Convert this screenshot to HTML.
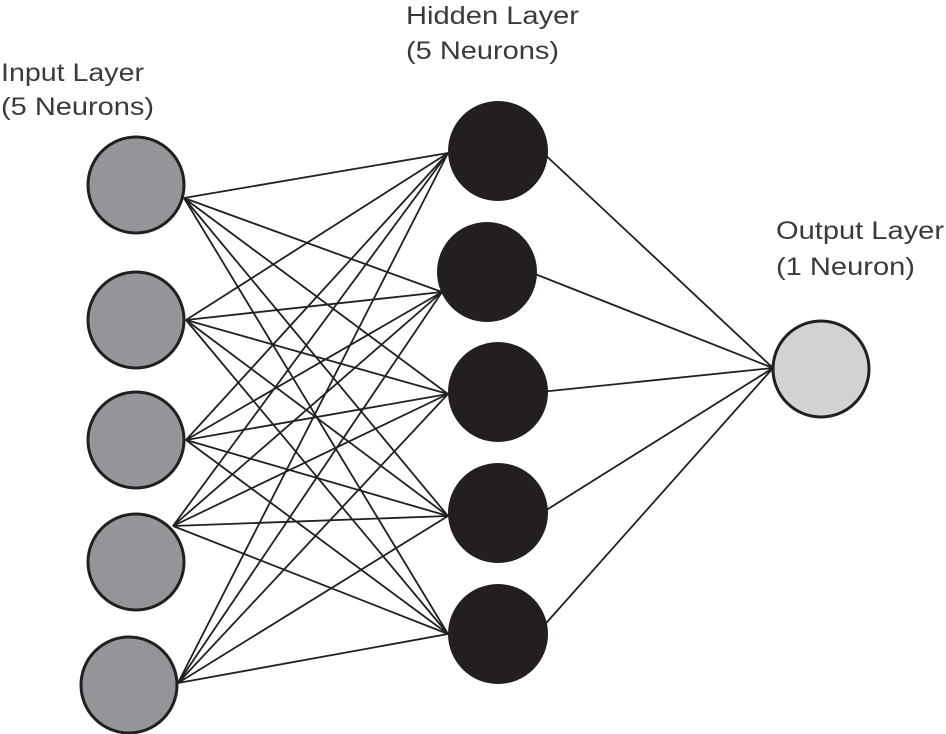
<!DOCTYPE html>
<html><head><meta charset="utf-8"><style>
html,body{margin:0;padding:0;background:#fff;}
svg{display:block;}
text{font-family:"Liberation Sans",Arial,sans-serif;font-size:25px;fill:#3a3a3a;}
</style></head><body>
<svg width="946" height="734" viewBox="0 0 946 734" xmlns="http://www.w3.org/2000/svg">
<g stroke="#231f20" stroke-width="1.8" fill="none">
<line x1="184" y1="198" x2="448" y2="153"/><line x1="184" y1="198" x2="442" y2="292"/><line x1="184" y1="198" x2="448" y2="394"/><line x1="184" y1="198" x2="448" y2="516"/><line x1="184" y1="198" x2="448" y2="634"/>
<line x1="186" y1="320" x2="448" y2="153"/><line x1="186" y1="320" x2="442" y2="292"/><line x1="186" y1="320" x2="448" y2="394"/><line x1="186" y1="320" x2="448" y2="516"/><line x1="186" y1="320" x2="448" y2="634"/>
<line x1="186" y1="440" x2="448" y2="153"/><line x1="186" y1="440" x2="442" y2="292"/><line x1="186" y1="440" x2="448" y2="394"/><line x1="186" y1="440" x2="448" y2="516"/><line x1="186" y1="440" x2="448" y2="634"/>
<line x1="173" y1="526" x2="448" y2="153"/><line x1="173" y1="526" x2="442" y2="292"/><line x1="173" y1="526" x2="448" y2="394"/><line x1="173" y1="526" x2="448" y2="516"/><line x1="173" y1="526" x2="448" y2="634"/>
<line x1="178" y1="683" x2="448" y2="153"/><line x1="178" y1="683" x2="442" y2="292"/><line x1="178" y1="683" x2="448" y2="394"/><line x1="178" y1="683" x2="448" y2="516"/><line x1="178" y1="683" x2="448" y2="634"/>
<line x1="540" y1="150" x2="773" y2="368"/>
<line x1="530" y1="272" x2="773" y2="368"/>
<line x1="540" y1="392" x2="773" y2="368"/>
<line x1="540" y1="514" x2="773" y2="368"/>
<line x1="540" y1="630" x2="773" y2="368"/>
</g>
<g stroke="#231f20" stroke-width="3" fill="#939598">
<circle cx="136" cy="185" r="48"/>
<circle cx="136" cy="320" r="48"/>
<circle cx="136" cy="440" r="48"/>
<circle cx="136" cy="562" r="48"/>
<circle cx="129" cy="685" r="48"/>
</g>
<g fill="#231f20">
<circle cx="498" cy="151" r="50"/>
<circle cx="487" cy="272" r="50"/>
<circle cx="498" cy="392" r="50"/>
<circle cx="498" cy="513" r="50"/>
<circle cx="498" cy="634" r="50"/>
</g>
<circle cx="821" cy="369" r="48" fill="#d1d2d4" stroke="#231f20" stroke-width="3"/>
<text x="1" y="81" textLength="143" lengthAdjust="spacingAndGlyphs">Input Layer</text>
<text x="1" y="115" textLength="153" lengthAdjust="spacingAndGlyphs">(5 Neurons)</text>
<text x="406" y="24" textLength="173" lengthAdjust="spacingAndGlyphs">Hidden Layer</text>
<text x="406" y="59" textLength="153" lengthAdjust="spacingAndGlyphs">(5 Neurons)</text>
<text x="776" y="239" textLength="168" lengthAdjust="spacingAndGlyphs">Output Layer</text>
<text x="776" y="275" textLength="139" lengthAdjust="spacingAndGlyphs">(1 Neuron)</text>
</svg>
</body></html>
